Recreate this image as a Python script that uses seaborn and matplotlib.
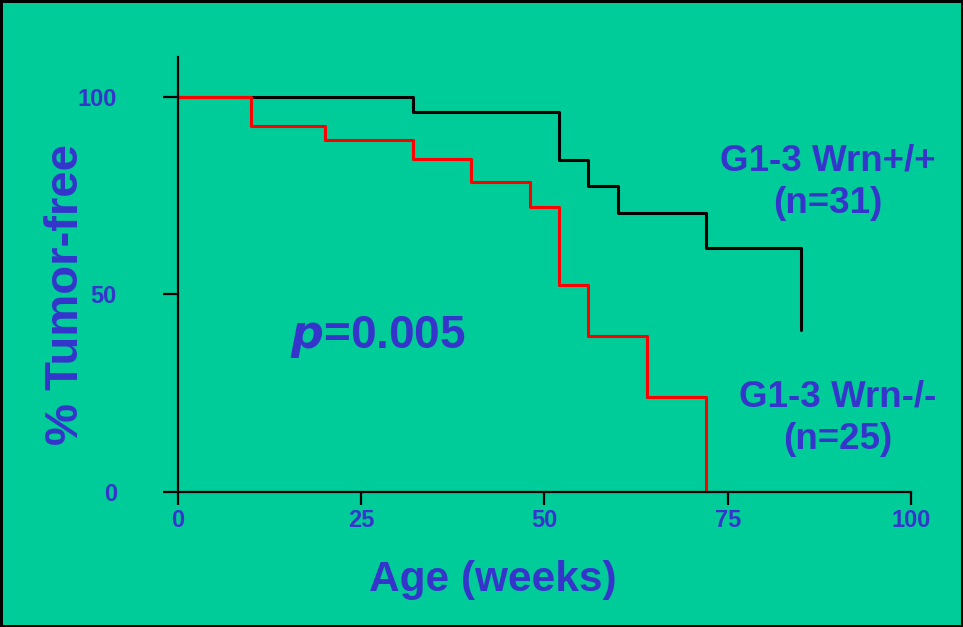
import pandas as pd
import matplotlib
matplotlib.use("Agg")
import matplotlib.pyplot as plt
import seaborn as sns

# Kaplan-Meier steps (weeks, % tumor-free)
wt_weeks = [0, 32, 52, 56, 60, 72, 85]
wt_pct = [100, 96, 84, 77.5, 70.5, 61.6, 41]
ko_weeks = [0, 10, 20, 32, 40, 48, 52, 56, 64, 72]
ko_pct = [100, 92.6, 88.9, 84.3, 78.5, 72, 52.3, 39.4, 24, 0]
groups = ["G1-3 Wrn+/+", "G1-3 Wrn-/-"]
x_ticks = [0, 25, 50, 75, 100]
y_ticks = [0, 50, 100]

BG = "#00CC99"
TXT = "#3535CC"

df = pd.concat([
    pd.DataFrame({"week": wt_weeks, "pct": wt_pct, "group": groups[0]}),
    pd.DataFrame({"week": ko_weeks, "pct": ko_pct, "group": groups[1]}),
])

sns.set_style("ticks")
plt.rcParams["font.family"] = ["Liberation Sans", "DejaVu Sans"]
plt.rcParams["font.weight"] = "bold"

fig = plt.figure(figsize=(9.63, 6.27), dpi=100, facecolor=BG)
fig.patch.set_edgecolor("black")
fig.patch.set_linewidth(2.5)
ax = fig.add_axes([0.1848, 0.2153, 0.7612, 0.6937])
ax.set_facecolor(BG)

sns.lineplot(data=df, x="week", y="pct", hue="group", hue_order=groups,
             palette={groups[0]: "black", groups[1]: "#FF0000"},
             drawstyle="steps-post", estimator=None, legend=False,
             linewidth=2.2, ax=ax)

ax.set_xlim(0, 100)
ax.set_ylim(0, 110)
ax.set_xticks(x_ticks)
ax.set_yticks(y_ticks)
ax.set_xticklabels([str(v) for v in x_ticks], fontweight="bold")
ax.set_yticklabels([str(v) for v in y_ticks], fontweight="bold")
for s in ["top", "right"]:
    ax.spines[s].set_visible(False)
for s in ["left", "bottom"]:
    ax.spines[s].set_color("black")
    ax.spines[s].set_linewidth(1.6)
ax.tick_params(axis="x", bottom=True, direction="out", length=9, width=1.6,
               color="black", labelsize=17, labelcolor=TXT, pad=3)
ax.tick_params(axis="y", left=True, direction="out", length=11, width=1.6,
               color="black", labelsize=17, labelcolor=TXT, pad=33)

ax.set_xlabel("Age (weeks)", fontsize=30.5, fontweight="bold", color=TXT)
ax.set_ylabel("% Tumor-free", fontsize=34, fontweight="bold", color=TXT)
ax.xaxis.set_label_coords(0.43, -0.156)
ax.yaxis.set_label_coords(-0.123, 0.455)

ax.text(15.3, 39.1, "$\\mathbfit{p}$=0.005", fontsize=33, fontweight="bold",
        color=TXT, ha="left", va="center")
ax.text(88.7, 78.3, "G1-3 Wrn+/+\n(n=31)", fontsize=26.5, fontweight="bold",
        color=TXT, ha="center", va="center", linespacing=1.3)
ax.text(90.0, 18.7, "G1-3 Wrn-/-\n(n=25)", fontsize=26.5, fontweight="bold",
        color=TXT, ha="center", va="center", linespacing=1.3)

fig.savefig("out.png", dpi=100, facecolor=BG, edgecolor="black")
